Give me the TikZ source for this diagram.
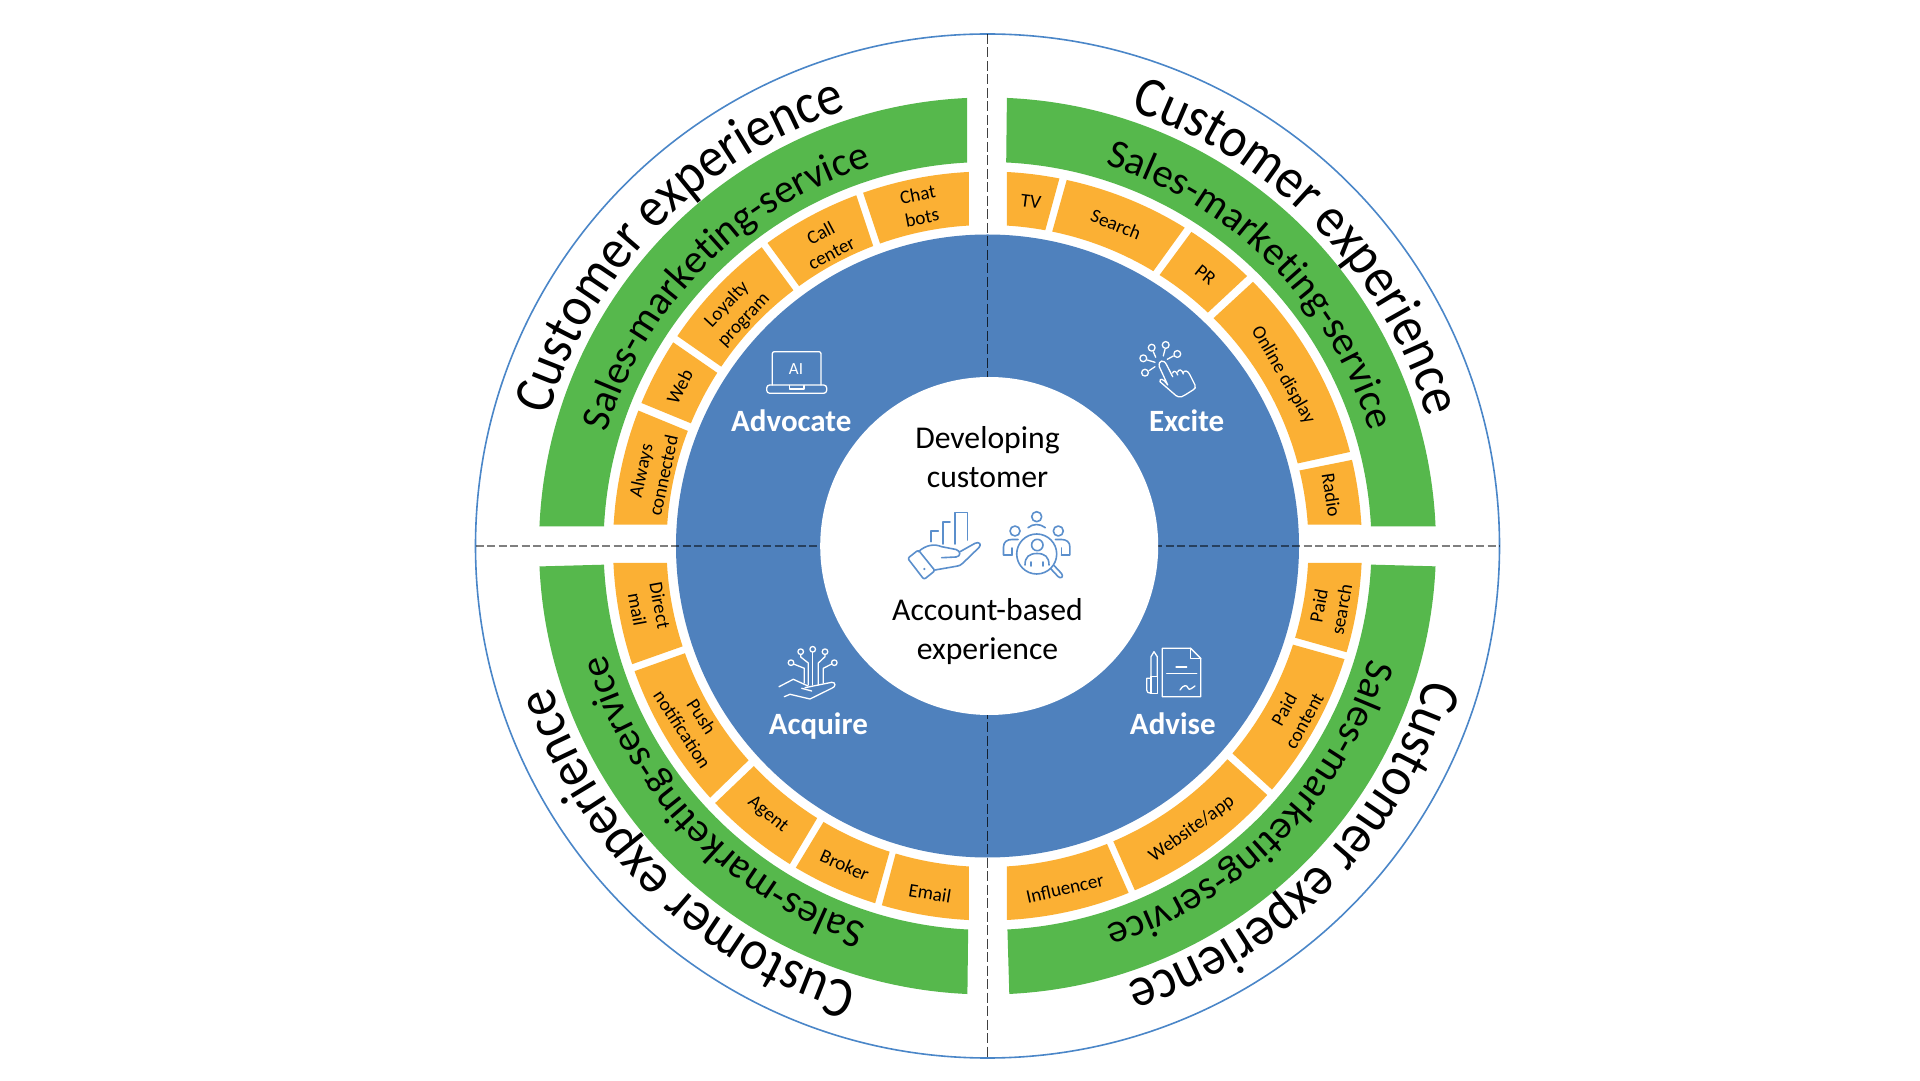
\documentclass[tikz,border=0pt]{standalone}
\usepackage{fontspec}
\setmainfont{Carlito}
\newfontfamily\custfont[FakeStretch=0.9]{Carlito}
\usetikzlibrary{decorations.text}
\definecolor{bluedisc}{HTML}{4F81BD}
\definecolor{greenband}{HTML}{56B84C}
\definecolor{orangeband}{HTML}{FBB034}
\definecolor{ringline}{HTML}{4A86C8}
\definecolor{iconblue}{HTML}{5B8FCC}
\tikzset{
  seglbl/.style={inner sep=0pt,align=center,text=black,font=\fontsize{19.2}{23}\selectfont},
  bluelbl/.style={inner sep=0pt,text=white,font=\fontsize{31}{36}\selectfont\bfseries},
  centerlbl/.style={inner sep=0pt,align=center,text=black,font=\fontsize{31.7}{39}\selectfont},
  iconb/.style={draw=iconblue,line width=1.6pt,line cap=round,line join=round},
  iconw/.style={draw=white,line width=1.3pt,line cap=round,line join=round},
  hdash/.style={draw=black,opacity=.5,line width=1.5pt,dash pattern=on 8pt off 3.5pt},
  vdash/.style={draw=black,opacity=.75,line width=1.2pt,dash pattern=on 10pt off 3.5pt},
}
\newcommand\ringseg[8]{%
  \pgfmathsetmacro\kao{atan2(546-#2,#1-987.5)}%
  \pgfmathsetmacro\kai{atan2(546-#4,#3-987.5)}%
  \pgfmathsetmacro\kbo{atan2(546-#6,#5-987.5)}%
  \pgfmathsetmacro\kbi{atan2(546-#8,#7-987.5)}%
  \fill[\segcol] (\kai:\segri) arc[start angle=\kai,end angle=\kbi,radius=\segri]
     -- (\kbo:\segro) arc[start angle=\kbo,end angle=\kao,radius=\segro] -- cycle;%
}
\newcommand\arctext[5]{% angle, radius, size, text
  \path[decorate,decoration={text along path,text align=center,
     text={|\custfont\fontsize{#3}{#3}\selectfont|#4}}]
     (#1+#5:#2) arc[start angle=#1+#5,end angle=#1-#5,radius=#2];%
}
\newcommand\arctextb[5]{% angle, radius, size, text
  \path[decorate,decoration={text along path,text align=center,
     text={|\fontsize{#3}{#3}\selectfont|#4}}]
     (#1+#5:#2) arc[start angle=#1+#5,end angle=#1-#5,radius=#2];%
}
\newcommand\seglabel[5]{\node[seglbl,rotate=#4] (#1) at (#2,#3) {#5};}
\begin{document}
\begin{tikzpicture}[x=1pt,y=1pt]
\useasboundingbox (0,0) rectangle (1920,1080);
\fill[white] (0,0) rectangle (1920,1080);
\begin{scope}[shift={(987.5,534)}]
  \draw[ringline,line width=1.6pt] (0,0) circle[radius=512];
  \fill[bluedisc] (0,0) circle[radius=311.5];
  \draw[hdash] (-512,0) -- (512,0);
  \draw[vdash] (0,512) -- (0,-512);
  \fill[white] (1.7,0) circle[radius=169];
  % green bands
  \def\segcol{greenband}\def\segro{448.5}\def\segri{384}
  \ringseg{540.5}{526.4}{604.7}{526.4}{967}{98}{967}{162.3}
  \ringseg{1006.9}{98}{1006.2}{162.3}{1436.6}{526.4}{1371.9}{526.4}
  \ringseg{1436.6}{566.4}{1372.6}{564.7}{1009.3}{994}{1007.5}{930.5}
  \ringseg{967.4}{994}{968.1}{930.5}{540.1}{566.4}{603.7}{564.7}
  % orange segments
  \def\segcol{orangeband}\def\segro{374.5}\def\segri{321}
  \ringseg{613.8}{524.7}{667.2}{524.7}{638.2}{410.5}{687.2}{430.7}
  \ringseg{641.5}{403}{690.9}{423.3}{673}{342.2}{716.9}{372.6}
  \ringseg{677.4}{336.1}{721}{366.5}{761.9}{247.5}{793}{289.8}
  \ringseg{767.6}{243.1}{799.1}{286.1}{856.2}{195.1}{873.1}{245.8}
  \ringseg{863}{192.4}{879.9}{243.1}{968.8}{171.8}{968.8}{225.2}
  \ringseg{1006.9}{171.8}{1006.9}{225.2}{1059.5}{177.9}{1045.4}{229.6}
  \ringseg{1066.8}{179.6}{1052.3}{231.3}{1185.6}{226.2}{1153.9}{270.2}
  \ringseg{1191.8}{231.3}{1160.1}{274.2}{1247.9}{275.2}{1209}{311.4}
  \ringseg{1253.8}{281}{1214.2}{317.5}{1350.9}{451.7}{1297.5}{463.5}
  \ringseg{1353.6}{459.5}{1300.2}{470.3}{1362.2}{524.7}{1308.2}{524.7}
  \ringseg{1362.2}{563}{1308.9}{563}{1347.8}{652.6}{1296.1}{638}
  \ringseg{1345}{659.3}{1293.4}{644.8}{1272.7}{790.2}{1233.1}{754}
  \ringseg{1267.5}{795.2}{1227.9}{759.7}{1135}{890.6}{1113.6}{841.9}
  \ringseg{1128.8}{893.3}{1107.4}{844.9}{1006.9}{920.3}{1006.9}{866.6}
  \ringseg{968.8}{920.3}{968.8}{866.6}{881.6}{906.1}{895.4}{854.4}
  \ringseg{875.1}{903.4}{889.3}{852.7}{795.7}{867.9}{822.7}{823.3}
  \ringseg{789.6}{864.5}{816.7}{818.9}{715.2}{803}{753.4}{766.5}
  \ringseg{710.2}{797.6}{748}{760.8}{634.4}{671.2}{684.8}{653.3}
  \ringseg{632.4}{664.1}{682.1}{646.5}{613.1}{563}{666.9}{563}
  % curved text
  \arctext{135.7}{458}{57}{Customer experience}{44}
  \arctext{44}{458}{57}{Customer experience}{44}
  \arctext{-44.6}{458}{57}{Customer experience}{44}
  \arctext{-134.3}{458}{57}{Customer experience}{44}
  \arctextb{135.2}{397}{40.5}{Sales-marketing-service}{44}
  \arctextb{44.8}{399}{40.5}{Sales-marketing-service}{44}
  \arctextb{-44.6}{398}{40.5}{Sales-marketing-service}{44}
  \arctextb{-136}{397}{40.5}{Sales-marketing-service}{44}
\end{scope}
\begin{scope}[shift={(0,1080)},yscale=-1]
  % segment labels
  \seglabel{lalways}{652}{473}{77.7}{Always\\connected}
  \seglabel{lweb}{679.7}{386.8}{62.7}{Web}
  \seglabel{lloyal}{735.5}{312.4}{47}{Loyalty\\program}
  \seglabel{lcall}{826}{243}{27.8}{Call\\center}
  \seglabel{lchat}{919.8}{206}{11}{Chat\\bots}
  \seglabel{ltv}{1031}{201.5}{-7.2}{TV}
  \seglabel{lsearch}{1116}{224.5}{-21.8}{Search}
  \seglabel{lpr}{1205.5}{275.2}{-38.8}{PR}
  \seglabel{lonline}{1283}{375}{-60}{Online display}
  \seglabel{lradio}{1331.5}{495}{-81.5}{Radio}
  \seglabel{lpaids}{1330}{607.6}{79.8}{Paid\\search}
  \seglabel{lpaidc}{1294}{715}{60.8}{Paid\\content}
  \seglabel{lwebapp}{1191.8}{829}{35.8}{Website/app}
  \seglabel{linflu}{1065}{888.2}{12.7}{Influencer}
  \seglabel{ldirect}{648.6}{607.6}{-79.7}{Direct\\mail}
  \seglabel{lpush}{692}{723}{-57}{Push\\notification}
  \seglabel{lagent}{767.6}{814.8}{-39.3}{Agent}
  \seglabel{lbroker}{844.7}{865.2}{-24}{Broker}
  \seglabel{lemail}{929.9}{893.3}{-9.4}{Email}
  % quadrant titles
  \node[bluelbl] (tadv) at (791.3,420.3) {Advocate};
  \node[bluelbl] (texc) at (1186.6,420.3) {Excite};
  \node[bluelbl] (tacq) at (818.4,726) {Acquire};
  \node[bluelbl] (tdvs) at (1172.8,724.2) {Advise};
  % centre
  \node[centerlbl] (cdev) at (987.5,457) {Developing\\customer};
  \node[centerlbl] (cacc) at (987.5,631.5) {Account-based\\experience};
  % hand with bars icon
  \draw[iconb] (955,544) -- (955,512.7) -- (967.3,512.7) -- (967.3,540);
  \draw[iconb] (942.7,544) -- (942.7,522) -- (950,522);
  \draw[iconb] (930.7,541.7) -- (930.7,531) -- (938.3,531);
  \draw[iconb,rounded corners=2pt] (907.7,558.3) -- (918.3,550) -- (935,570.7) -- (924,579.5) -- cycle;
  \fill[iconblue] (924.3,569) circle[radius=1.2];
  \draw[iconb] (918.3,551.7) .. controls (926,545) and (934,543.5) .. (941.7,546.7)
     -- (956,549.5) .. controls (961,551) and (961,556.5) .. (956,557) -- (941.7,557.7);
  \draw[iconb] (960,551.7) -- (975,543.3) .. controls (979,541.5) and (982,544) .. (979,547.5)
     -- (963,563) .. controls (961,565) and (960,565.7) .. (955,566.5) -- (935,570);
  % people icon
  \draw[iconb] (1036.7,554) circle[radius=20];
  \draw[iconb] (1050.5,568.5) -- (1058,576.5) .. controls (1061,579.5) and (1064,576.5) .. (1061.5,573.5) -- (1054,565.5);
  \draw[iconb] (1036.7,516.7) circle[radius=5];
  \draw[iconb] (1028,527.7) .. controls (1033,523.5) and (1040,523.5) .. (1045.3,527.7);
  \draw[iconb] (1015,531) circle[radius=5];
  \draw[iconb] (1058.3,531) circle[radius=5];
  \draw[iconb] (1012,555) -- (1003.5,555) -- (1003.5,547) .. controls (1003.5,542) and (1007,539.5) .. (1012,539.5) -- (1018,539.5);
  \draw[iconb] (1012,555) -- (1012,548);
  \draw[iconb] (1061.4,555) -- (1069.9,555) -- (1069.9,547) .. controls (1069.9,542) and (1066.4,539.5) .. (1061.4,539.5) -- (1055.4,539.5);
  \draw[iconb] (1061.4,555) -- (1061.4,548);
  \draw[iconb] (1037.3,545) circle[radius=5.7];
  \draw[iconb] (1025,565) .. controls (1025,557) and (1029,553.5) .. (1037,553.5) .. controls (1045,553.5) and (1049,557) .. (1049,565);
  \draw[iconb] (1031,562) -- (1031,566);
  \draw[iconb] (1043,562) -- (1043,566);
  % laptop icon
  \draw[iconw,rounded corners=2pt] (772.3,385) -- (772.3,351.7) -- (821,351.7) -- (821,385);
  \draw[iconw,rounded corners=3pt] (766.7,385) -- (826.7,385) -- (826.7,393.3) -- (766.7,393.3) -- cycle;
  \draw[iconw] (789.3,385.5) -- (789.3,389) -- (804,389) -- (804,385.5);
  \node[inner sep=0pt,text=white,font=\fontsize{17}{17}\selectfont] (tai) at (796,369.3) {AI};
  % touch icon
  \foreach \cx/\cy in {1143.3/358.3,1151.7/347.7,1165.7/345,1177.3/354,1145/372.7}
    \draw[iconw] (\cx,\cy) circle[radius=3.4];
  \draw[iconw] (1147.3,360) -- (1155,362.3);
  \draw[iconw] (1153.3,351.7) -- (1155.7,357.3);
  \draw[iconw] (1165,349.3) -- (1163.3,356);
  \draw[iconw] (1173.3,356) -- (1167.3,359.3);
  \draw[iconw] (1149,370.7) -- (1155,366.7);
  \draw[iconw] (1167.7,385) -- (1159.3,366.7) .. controls (1158,360) and (1164,359) .. (1166.7,365) -- (1172.7,376.7)
     (1172.7,373) .. controls (1173,370.5) and (1176.5,370.5) .. (1177.7,375)
     (1177.7,372) .. controls (1178.5,369) and (1182,369) .. (1183.3,374)
     (1183.3,372.5) .. controls (1184.5,370) and (1188,370.5) .. (1190,375)
     -- (1195,385) .. controls (1196,388) and (1195,388.5) .. (1193,390) -- (1185,395)
     .. controls (1180,398.5) and (1177,397) .. (1173.3,393.3) -- (1160,381.7)
     .. controls (1159.5,378) and (1163,378) .. (1167.7,385);
  % acquire icon
  \foreach \cx/\cy in {800.7/651.7,812.7/649.3,825/651.7,791/662.7,834.3/662.7}
    \draw[iconw] (\cx,\cy) circle[radius=2.8];
  \draw[iconw] (812.7,652.3) -- (812.7,685);
  \draw[iconw] (808.3,685) -- (808.3,663) -- (800.7,657) -- (800.7,654.6);
  \draw[iconw] (818.3,685) -- (818.3,663) -- (825,656.7) -- (825,654.6);
  \draw[iconw] (804.3,683) -- (804.3,668.3) -- (793.6,664);
  \draw[iconw] (823.3,683) -- (823.3,668.3) -- (831.7,664);
  \draw[iconw] (779,686.7) -- (793.3,679.3) -- (808,686);
  \draw[iconw] (805,687.7) -- (831.7,682.3) .. controls (836,682) and (836,687) .. (831.7,688.3) -- (810,699) -- (790,694.3) -- (784.3,696.7);
  \draw[iconw] (801.7,688.3) -- (811.7,691);
  % advise icon
  \draw[iconw] (1190.7,648.3) -- (1162.3,648.3) -- (1162.3,696.7) -- (1200.7,696.7) -- (1200.7,658.3) -- cycle;
  \draw[iconw] (1190.7,648.3) -- (1190.7,658.3) -- (1200.7,658.3);
  \draw[iconw] (1176,667) -- (1186.7,667);
  \draw[iconw] (1166.7,673.3) -- (1196.7,673.3);
  \draw[iconw] (1180,690) .. controls (1184,684) and (1187,685) .. (1188,688) .. controls (1189,691) and (1192,688) .. (1195,686);
  \draw[iconw] (1151,676.7) -- (1157.3,676.7) -- (1157.3,693.3) -- (1151,693.3) -- cycle;
  \draw[iconw] (1151,676.7) -- (1151,656.7) -- (1154,651.7) -- (1157.3,656.7) -- (1157.3,676.7);
  \draw[iconw] (1151,678.3) -- (1146.7,678.3) -- (1146.7,690) .. controls (1146.7,692) and (1148,693.3) .. (1151,693.3);
\end{scope}
\end{tikzpicture}
\end{document}
